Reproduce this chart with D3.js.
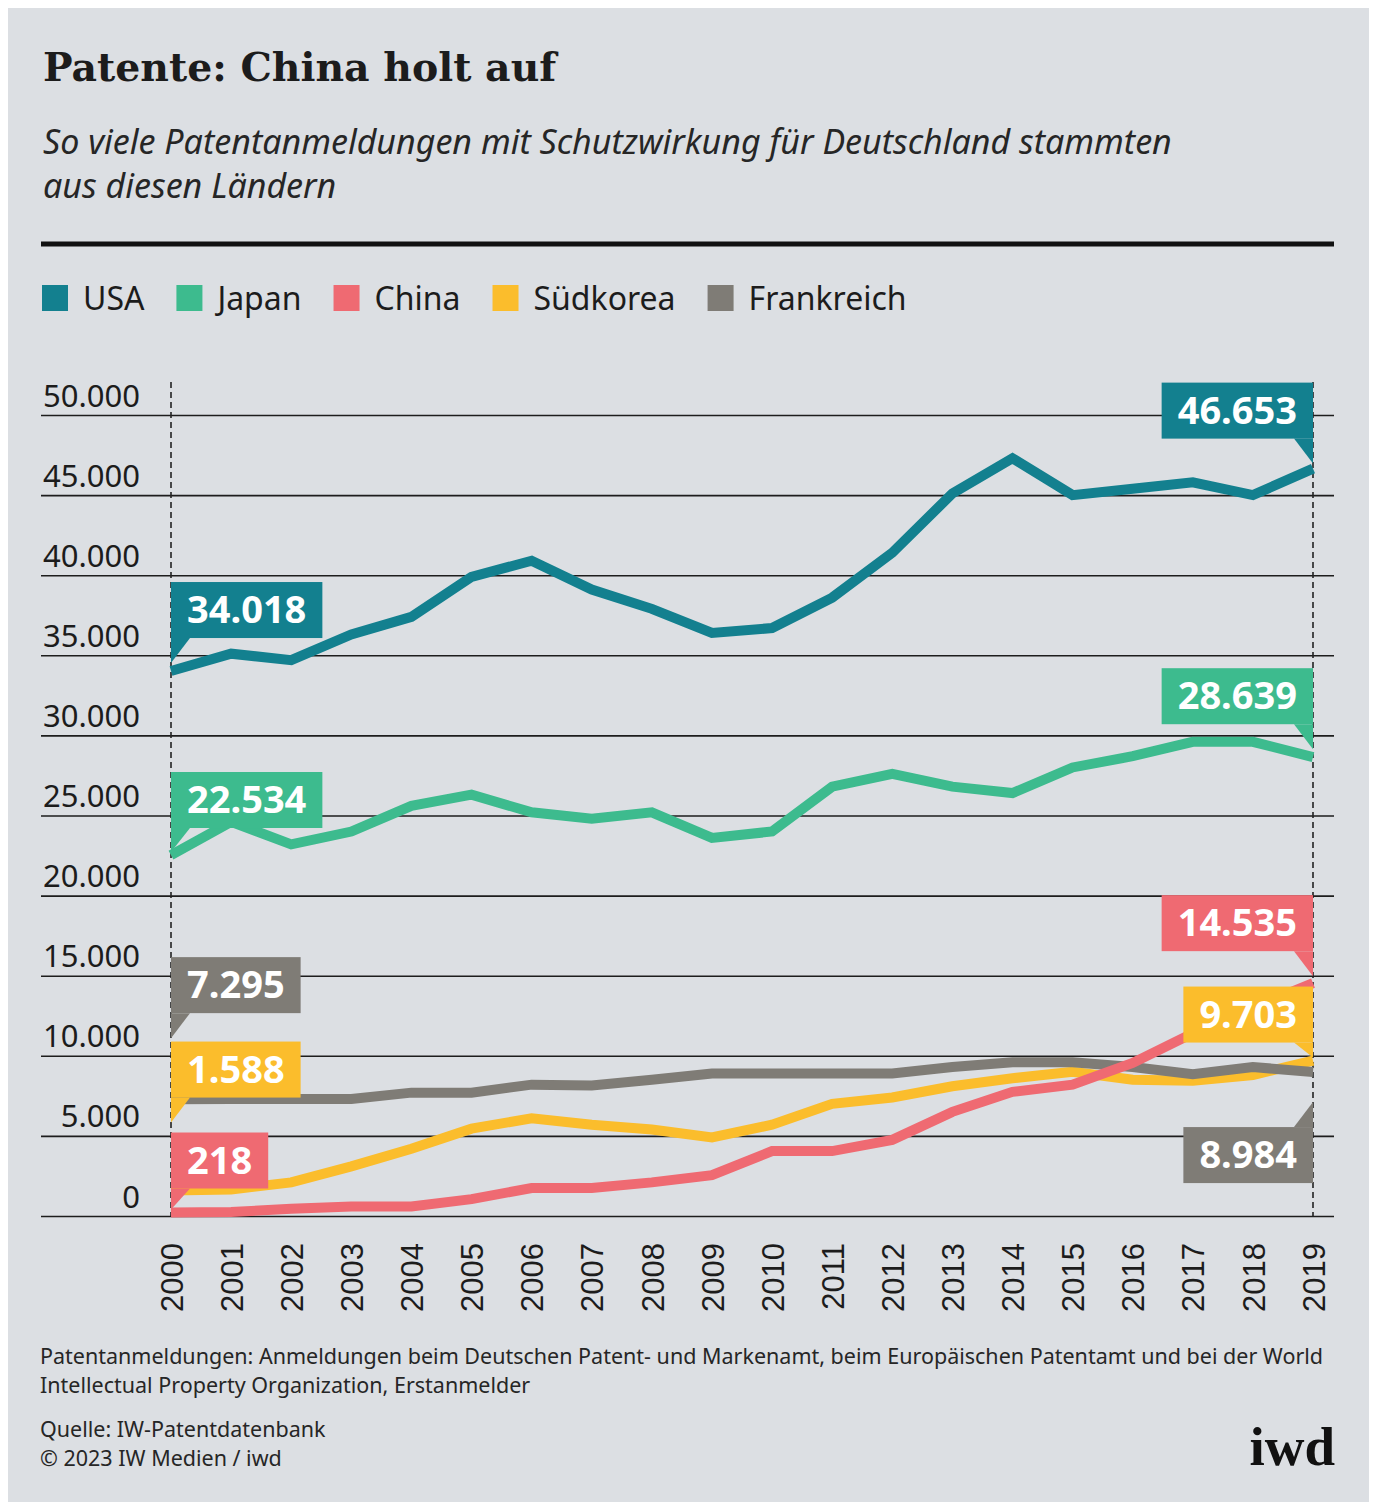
<!DOCTYPE html>
<html>
<head>
<meta charset="utf-8">
<script src="https://cdn.jsdelivr.net/npm/d3@7"></script>
<style>
  body { margin: 0; background: #ffffff; }
</style>
</head>
<body>
<div id="chart"></div>
<script>
// ---------------------------------------------------------- //
// Data (patent applications, DE)       //
// ---------------------------------------------------------- //
var years = [2000, 2001, 2002, 2003, 2004, 2005, 2006, 2007, 2008, 2009,
             2010, 2011, 2012, 2013, 2014, 2015, 2016, 2017, 2018, 2019];
var seriesNames = ["USA", "Japan", "China", "Südkorea", "Frankreich"];
var usa = [34018, 35100, 34700, 36300, 37400, 39900, 40900, 39100, 37900, 36400,
           36700, 38600, 41400, 45100, 47300, 45000, 45400, 45800, 45000, 46653];
var japan = [22534, 24600, 23200, 24000, 25600, 26300, 25200, 24800, 25200, 23600,
             24000, 26800, 27600, 26800, 26400, 28000, 28700, 29600, 29600, 28639];
var china = [218, 250, 450, 600, 600, 1050, 1750, 1750, 2100, 2550,
             4050, 4050, 4750, 6500, 7750, 8200, 9550, 11400, 13000, 14535];
var korea = [1588, 1650, 2100, 3100, 4200, 5450, 6100, 5700, 5400, 4900,
             5700, 7000, 7400, 8100, 8600, 9000, 8500, 8450, 8800, 9703];
var france = [7295, 7300, 7300, 7300, 7700, 7700, 8200, 8150, 8500, 8900,
              8900, 8900, 8900, 9300, 9600, 9600, 9300, 8850, 9300, 8984];
var yTicks = [0, 5000, 10000, 15000, 20000, 25000, 30000, 35000, 40000, 45000, 50000];

var seriesValues = [usa, japan, china, korea, france];
var seriesColors = ["#13808f", "#3dbb8e", "#ef6a72", "#fbbd2c", "#7f7c76"];
// drawing order, back to front
var drawOrder = [3, 4, 2, 1, 0];
// px from data point to the bottom of the value box (negative = box below)
var startLift = [33, 27, 24, 93, 86];
var endLift = [30, 33, 32, 18, -55];

// ---------------------------------------------------------- //
// Canvas                                                      //
// ---------------------------------------------------------- //
var W = 1375, H = 1504;
var svg = d3.select("#chart").append("svg")
  .attr("width", W).attr("height", H);

svg.append("rect")
  .attr("x", 8).attr("y", 8)
  .attr("width", 1361).attr("height", 1494)
  .attr("fill", "#dcdfe3");

var sans = "'Noto Sans', 'Open Sans', sans-serif";
var ink = "#1c1c1c";

// title: fit the slab serif to the original width
var title = svg.append("text")
  .attr("x", 43).attr("y", 81)
  .style("font-family", "'DejaVu Serif', serif")
  .style("font-weight", "bold")
  .style("font-size", "40px")
  .attr("fill", ink)
  .text("Patente: China holt auf");
var tw = title.node().getComputedTextLength();
title.style("font-size", (40 * 513 / tw).toFixed(1) + "px");

var sub = ["So viele Patentanmeldungen mit Schutzwirkung für Deutschland stammten",
           "aus diesen Ländern"];
svg.selectAll("text.sub")
  .data(sub)
  .enter()
  .append("text")
    .attr("class", "sub")
    .attr("x", 43)
    .attr("y", function(d, i) { return 154 + i * 44; })
    .style("font-family", sans)
    .style("font-style", "italic")
    .style("font-size", "34px")
    .attr("fill", "#262626")
    .text(function(d) { return d; });

svg.append("line")
  .attr("x1", 41).attr("x2", 1334)
  .attr("y1", 244).attr("y2", 244)
  .attr("stroke", "#111").attr("stroke-width", 5);

// ------ //
// LEGEND //
// ------ //
var legend = svg.append("g").attr("transform", "translate(42,285)");
var lx = 0;
seriesNames.forEach(function(name, i) {
  var item = legend.append("g").attr("transform", "translate(" + lx + ",0)");
  item.append("rect")
    .attr("width", 26).attr("height", 26)
    .attr("fill", seriesColors[i]);
  var t = item.append("text")
    .attr("x", 41).attr("y", 25)
    .style("font-family", sans)
    .style("font-size", "32px")
    .attr("fill", ink)
    .text(name);
  lx += 41 + t.node().getComputedTextLength() + 32;
});

// ----- //
// Scales //
// ----- //
var x = d3.scalePoint().domain(years).range([171, 1313]);
var y = d3.scaleLinear().domain([0, 50000]).range([1216, 415]);
var de = d3.formatLocale({decimal: ",", thousands: ".", grouping: [3], currency: ["", "€"]});
var fmt = de.format(",");

// Y grid + labels
svg.append("g")
  .attr("transform", "translate(41,0)")
  .call(d3.axisRight(y).tickValues(yTicks).tickSize(1293).tickFormat(fmt))
  .call(function(g) { g.select(".domain").remove(); })
  .call(function(g) {
    g.selectAll(".tick line").attr("stroke", "#1d1d1d").attr("stroke-width", 1.6);
    g.selectAll(".tick text")
      .attr("x", 99).attr("dy", -9)
      .attr("text-anchor", "end")
      .style("font-family", sans)
      .style("font-size", "31px")
      .attr("fill", ink);
  });

// X labels (rotated years)
svg.append("g")
  .attr("transform", "translate(0,1216)")
  .call(d3.axisBottom(x).tickSize(0).tickFormat(d3.format("d")))
  .call(function(g) { g.select(".domain").remove(); })
  .call(function(g) {
    g.selectAll(".tick text")
      .attr("y", 0).attr("x", -27)
      .attr("dy", "0.36em")
      .attr("transform", "rotate(-90)")
      .attr("text-anchor", "end")
      .style("font-family", "'Liberation Sans', Arial, sans-serif")
      .style("font-size", "31px")
      .attr("fill", ink);
  });

// dashed guides at first and last year
[years[0], years[years.length - 1]].forEach(function(yr) {
  svg.append("line")
    .attr("x1", x(yr)).attr("x2", x(yr))
    .attr("y1", 382).attr("y2", 1216)
    .attr("stroke", "#222")
    .attr("stroke-width", 1.6)
    .attr("stroke-dasharray", "6,4");
});

// ----- //
// Lines //
// ----- //
var line = d3.line()
  .x(function(d, i) { return x(years[i]); })
  .y(function(d) { return y(d); });

drawOrder.forEach(function(k) {
  svg.append("path")
    .attr("d", line(seriesValues[k]))
    .attr("fill", "none")
    .attr("stroke", seriesColors[k])
    .attr("stroke-width", 10)
    .attr("stroke-linejoin", "miter");
});

// ------------ //
// Value boxes  //
// ------------ //
var boxH = 56, tail = 25, tailW = 19, pad = 16;

function valueBox(value, color, side, lift) {
  var px = side === "left" ? x(years[0]) : x(years[years.length - 1]);
  var py = y(value);
  var g = svg.append("g");
  var t = g.append("text")
    .style("font-family", sans)
    .style("font-weight", "bold")
    .style("font-size", "38px")
    .attr("fill", "#ffffff")
    .attr("text-anchor", "middle")
    .text(fmt(value));
  var bw = t.node().getComputedTextLength() + 2 * pad;
  var bx = side === "left" ? px : px - bw;
  var top, pts;
  if (lift > 0) {
    var bottom = py - lift;
    top = bottom - boxH;
    var tip = Math.min(bottom + tail, py - 3);
    pts = side === "left"
      ? [[px, bottom], [px + tailW, bottom], [px, tip]]
      : [[px - tailW, bottom], [px, bottom], [px, tip]];
  } else {
    top = py - lift;
    var tipUp = top - tail;
    pts = side === "left"
      ? [[px, top], [px + tailW, top], [px, tipUp]]
      : [[px - tailW, top], [px, top], [px, tipUp]];
  }
  g.insert("rect", "text")
    .attr("x", bx).attr("y", top)
    .attr("width", bw).attr("height", boxH)
    .attr("fill", color);
  g.insert("polygon", "text")
    .attr("points", pts.map(function(p) { return p.join(","); }).join(" "))
    .attr("fill", color);
  t.attr("x", bx + bw / 2).attr("y", top + 41);
}

drawOrder.forEach(function(k) {
  var vals = seriesValues[k];
  valueBox(vals[0], seriesColors[k], "left", startLift[k]);
  valueBox(vals[vals.length - 1], seriesColors[k], "right", endLift[k]);
});

// ------ //
// Footer //
// ------ //
var notes = [
  ["Patentanmeldungen: Anmeldungen beim Deutschen Patent- und Markenamt, beim Europäischen Patentamt und bei der World", 1364],
  ["Intellectual Property Organization, Erstanmelder", 1393],
  ["Quelle: IW-Patentdatenbank", 1437],
  ["© 2023 IW Medien / iwd", 1466]
];
svg.selectAll("text.note")
  .data(notes)
  .enter()
  .append("text")
    .attr("class", "note")
    .attr("x", 40)
    .attr("y", function(d) { return d[1]; })
    .style("font-family", sans)
    .style("font-size", "21.5px")
    .attr("fill", "#262626")
    .text(function(d) { return d[0]; });

svg.append("text")
  .attr("x", 1335).attr("y", 1465)
  .attr("text-anchor", "end")
  .style("font-family", "'Liberation Serif', serif")
  .style("font-weight", "bold")
  .style("font-size", "55px")
  .attr("fill", "#111")
  .text("iwd");
</script>
</body>
</html>
